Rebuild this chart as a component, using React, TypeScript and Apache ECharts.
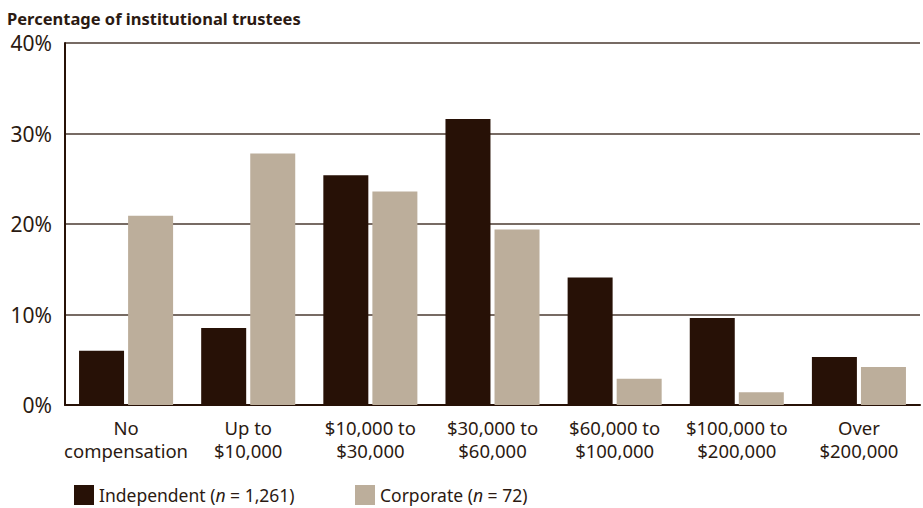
import React, { useEffect, useRef } from "react";
import * as echarts from "echarts";

const categories = [
  "No\ncompensation",
  "Up to\n$10,000",
  "$10,000 to\n$30,000",
  "$30,000 to\n$60,000",
  "$60,000 to\n$100,000",
  "$100,000 to\n$200,000",
  "Over\n$200,000",
];
const independent = [6.0, 8.5, 25.4, 31.6, 14.1, 9.6, 5.3];
const corporate = [20.9, 27.8, 23.6, 19.4, 2.9, 1.4, 4.2];
const yTicks = [0, 10, 20, 30, 40];

const DARK = "#271106";
const TAN = "#bcae9b";
const TEXT = "#2b1a12";
const FONT = "'Noto Sans', 'Open Sans', sans-serif";

const legendRich = {
  a: { fontSize: 17.5, lineHeight: 20, color: TEXT, fontFamily: FONT },
  i: { fontSize: 17.5, lineHeight: 20, color: TEXT, fontStyle: "italic", fontFamily: FONT },
};

export default function App() {
  const ref = useRef<HTMLDivElement>(null);
  useEffect(() => {
    const chart = echarts.init(ref.current!, null, { renderer: "svg" });
    chart.setOption({
      animation: false,
      textStyle: { fontFamily: FONT, color: TEXT },
      title: {
        text: "Percentage of institutional trustees",
        left: 2,
        top: 5,
        textStyle: { fontSize: 16.5, fontWeight: "bold", color: TEXT, fontFamily: FONT },
      },
      legend: [
        {
          data: ["Independent"],
          left: 74,
          top: 485,
          padding: 0,
          itemWidth: 20,
          itemHeight: 20,
          icon: "rect",
          formatter: () => "{a|Independent (}{i|n}{a| = 1,261)}",
          textStyle: { rich: legendRich },
        },
        {
          data: ["Corporate"],
          left: 355,
          top: 485,
          padding: 0,
          itemWidth: 20,
          itemHeight: 20,
          icon: "rect",
          formatter: () => "{a|Corporate (}{i|n}{a| = 72)}",
          textStyle: { rich: legendRich },
        },
      ],
      grid: { left: 65, right: 3, top: 43, bottom: 103, containLabel: false },
      xAxis: {
        type: "category",
        data: categories,
        axisLine: { show: true, lineStyle: { color: DARK, width: 2 } },
        axisTick: { show: false },
        axisLabel: {
          fontSize: 18.5,
          lineHeight: 23,
          color: TEXT,
          margin: 11,
          interval: 0,
          fontFamily: FONT,
        },
      },
      yAxis: {
        type: "value",
        min: yTicks[0],
        max: yTicks[yTicks.length - 1],
        interval: 10,
        axisLine: { show: true, lineStyle: { color: DARK, width: 2 } },
        axisTick: { show: false },
        axisLabel: {
          formatter: "{value}%",
          fontSize: 21,
          color: TEXT,
          margin: 13,
          fontFamily: FONT,
        },
        splitLine: { show: true, lineStyle: { color: "#4a3a30", width: 1.5 } },
      },
      series: [
        {
          name: "Independent",
          type: "bar",
          data: independent,
          barWidth: 45,
          barGap: "9%",
          itemStyle: { color: DARK },
        },
        {
          name: "Corporate",
          type: "bar",
          data: corporate,
          barWidth: 45,
          itemStyle: { color: TAN },
        },
      ],
    });
    return () => chart.dispose();
  }, []);
  return <div ref={ref} style={{ width: 923, height: 508, position: "absolute", left: 0, top: 0 }} />;
}
